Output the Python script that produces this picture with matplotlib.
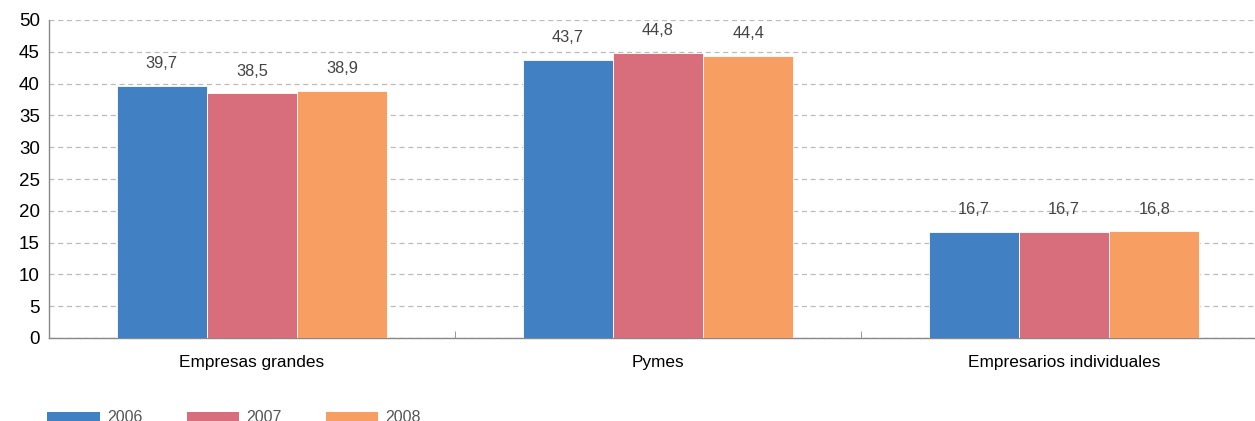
import matplotlib
matplotlib.use("Agg")
import matplotlib.pyplot as plt
import numpy as np
from matplotlib.patches import Patch

categories = ["Empresas grandes", "Pymes", "Empresarios individuales"]
years = ["2006", "2007", "2008"]
values_2006 = [39.7, 43.7, 16.7]
values_2007 = [38.5, 44.8, 16.7]
values_2008 = [38.9, 44.4, 16.8]
series = [values_2006, values_2007, values_2008]
colors = ["#4180C2", "#D86E7C", "#F79E63"]

plt.rcParams["font.family"] = ["Liberation Sans", "DejaVu Sans"]

W, H = 1255, 421
fig = plt.figure(figsize=(W / 100, H / 100), dpi=100)
left_px, right_px, top_px, bottom_px = 49, 1255, 20, 338
ax = fig.add_axes([left_px / W, 1 - bottom_px / H,
                   (right_px - left_px) / W, (bottom_px - top_px) / H])

x = np.arange(len(categories))
bw = 0.2222
for i, (vals, col) in enumerate(zip(series, colors)):
    pos = x + (i - 1) * bw
    ax.bar(pos, vals, width=bw, color=col, edgecolor="white", linewidth=0.6, zorder=3)
    for p, v in zip(pos, vals):
        ax.text(p, v + 2.3, f"{v:.1f}".replace(".", ","), ha="center", va="bottom",
                fontsize=11.8, color="#444444", zorder=4)

ax.set_yticks(np.arange(0, 51, 5))
ax.yaxis.grid(True, linestyle=(0, (4, 3)), color="#BBBBBB", linewidth=0.9, zorder=0)
ax.set_axisbelow(True)

ax.set_xticks(x)
ax.set_xticklabels(categories, fontsize=12.4)
ax.tick_params(axis="x", length=0, pad=12)
ax.set_xticks(np.arange(-0.5, len(categories)), minor=True)
ax.tick_params(axis="x", which="minor", direction="in", length=5, color="#888888")
ax.tick_params(axis="y", length=0, labelsize=13.5, pad=6.5)

# limits set last so tick placement does not widen the view
span = (right_px - left_px) / 406.0
ax.set_xlim(-0.5, -0.5 + span)
ax.set_ylim(0, 50)

for s in ["top", "right"]:
    ax.spines[s].set_visible(False)
for s in ["left", "bottom"]:
    ax.spines[s].set_color("#888888")
    ax.spines[s].set_linewidth(1.0)

handles = [Patch(facecolor=c, edgecolor="none") for c in colors]
fig.legend(handles, years, loc="center left", bbox_to_anchor=(33 / W, 1 - 418 / H),
           ncol=3, frameon=False, fontsize=11.5, handlelength=3.3, handleheight=0.6,
           handletextpad=0.45, columnspacing=2.75, labelcolor="#555555")

fig.savefig("out.png", dpi=100)
